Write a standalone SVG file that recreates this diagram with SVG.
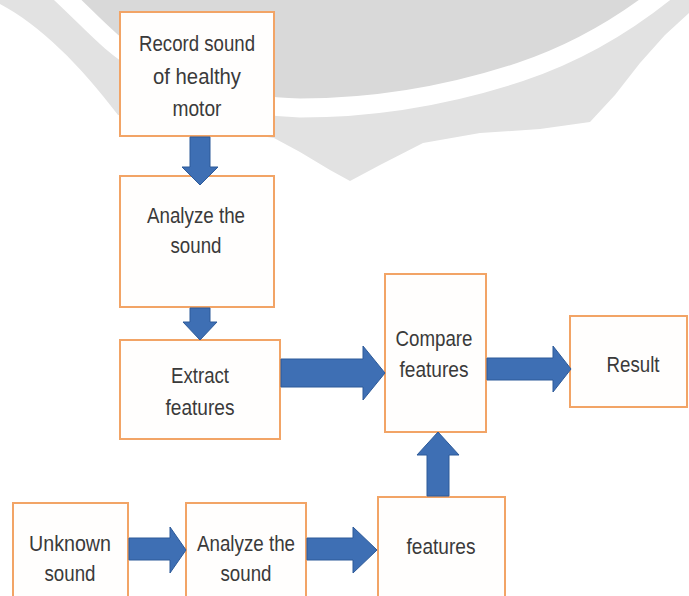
<svg xmlns="http://www.w3.org/2000/svg" width="689" height="596" viewBox="0 0 689 596">
<style>
.box{fill:#fffefd;stroke:#f2a466;stroke-width:2}
.arr{fill:#3e6fb4;stroke:#2d5a99;stroke-width:1}
text{font-family:"Liberation Sans",Arial,sans-serif;font-size:22px;fill:#3a3a3a;text-anchor:middle}
</style>
<g id="watermark">
<path d="M0,0 L0,4 C40,25 80,65 118,115 L274,138 L300,152 L330,170 L350,181 L380,165 L423,143 L480,133 L540,129 L590,122 L615,95 L640,63 L665,35 L689,13 L689,0 Z" fill="#e2e2e2"/>
<path d="M55,-12 C90,20 110,45 140,62 C190,92 240,106 300,108 C380,108 450,95 520,72 C580,52 630,20 665,-8 Z" fill="#d9d9d9"/>
<path d="M55,-12 C90,20 110,45 140,62 C190,92 240,106 300,108 C380,108 450,95 520,72 C580,52 630,20 665,-8" fill="none" stroke="#ffffff" stroke-width="19"/>
</g>
<g id="record">
<rect class="box" x="120" y="12" width="154" height="124"/>
<text x="197" y="51" textLength="116" lengthAdjust="spacingAndGlyphs">Record sound</text>
<text x="197" y="84" textLength="88" lengthAdjust="spacingAndGlyphs">of healthy</text>
<text x="197" y="116" textLength="49" lengthAdjust="spacingAndGlyphs">motor</text>
</g>
<g id="analyze1">
<rect class="box" x="120" y="176" width="154" height="131"/>
<text x="196" y="223" textLength="98" lengthAdjust="spacingAndGlyphs">Analyze the</text>
<text x="196" y="253" textLength="51" lengthAdjust="spacingAndGlyphs">sound</text>
</g>
<g id="extract">
<rect class="box" x="120" y="340" width="160" height="99"/>
<text x="200" y="383" textLength="58" lengthAdjust="spacingAndGlyphs">Extract</text>
<text x="200" y="415" textLength="69" lengthAdjust="spacingAndGlyphs">features</text>
</g>
<g id="compare">
<rect class="box" x="385" y="274" width="101" height="158"/>
<text x="434" y="346" textLength="77" lengthAdjust="spacingAndGlyphs">Compare</text>
<text x="434" y="377" textLength="69" lengthAdjust="spacingAndGlyphs">features</text>
</g>
<g id="result">
<rect class="box" x="570" y="316" width="117" height="91"/>
<text x="633" y="372" textLength="53" lengthAdjust="spacingAndGlyphs">Result</text>
</g>
<g id="unknown">
<rect class="box" x="13" y="503" width="115" height="100"/>
<text x="70" y="551" textLength="82" lengthAdjust="spacingAndGlyphs">Unknown</text>
<text x="70" y="581" textLength="51" lengthAdjust="spacingAndGlyphs">sound</text>
</g>
<g id="analyze2">
<rect class="box" x="186" y="503" width="120" height="100"/>
<text x="246" y="551" textLength="98" lengthAdjust="spacingAndGlyphs">Analyze the</text>
<text x="246" y="581" textLength="51" lengthAdjust="spacingAndGlyphs">sound</text>
</g>
<g id="features">
<rect class="box" x="378" y="497" width="127" height="105"/>
<text x="441" y="554" textLength="69" lengthAdjust="spacingAndGlyphs">features</text>
</g>
<g id="connectors">
<polygon class="arr" points="190,137 210,137 210,167 218,167 200,185 182,167 190,167"/>
<polygon class="arr" points="190,308 210,308 210,322 217,322 200,340 183,322 190,322"/>
<polygon class="arr" points="281,359 363,359 363,346 385,373 363,400 363,387 281,387"/>
<polygon class="arr" points="487,358 553,358 553,346 571,369 553,392 553,380 487,380"/>
<polygon class="arr" points="427,496 427,455 417,455 438,432 459,455 449,455 449,496"/>
<polygon class="arr" points="129,538 170,538 170,527 186,550 170,573 170,560 129,560"/>
<polygon class="arr" points="307,538 353,538 353,527 377,550 353,573 353,560 307,560"/>
</g>
</svg>
